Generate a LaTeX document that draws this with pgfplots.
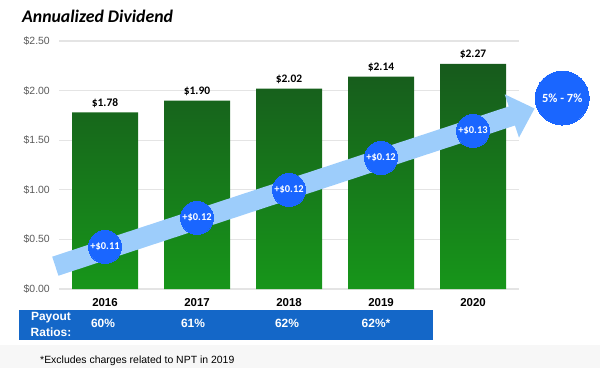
\documentclass[border=0pt]{standalone}
\usepackage{fontspec}
\setmainfont{Liberation Sans}
\newfontfamily\calfont{Carlito}
\usepackage{pgfplots}
\pgfplotsset{compat=1.18}
\usetikzlibrary{arrows.meta}
\definecolor{gridgray}{HTML}{E4E4E4}
\definecolor{ticktext}{HTML}{5A5A5A}
\definecolor{bartop}{HTML}{175A1C}
\definecolor{barbot}{HTML}{17961A}
\definecolor{arrowblue}{HTML}{9DCDFB}
\definecolor{circblue}{HTML}{1A66FF}
\definecolor{bandblue}{HTML}{1467C8}
\definecolor{footgray}{HTML}{F7F7F7}
\begin{document}
\begin{tikzpicture}[x=1bp,y=1bp]
\path[use as bounding box] (0,0) rectangle (600,368);
\fill[footgray] (0,0) rectangle (600,23);
\begin{axis}[
  at={(59bp,79bp)}, anchor=south west,
  scale only axis, width=460bp, height=248bp,
  xmin=-0.5, xmax=4.5, ymin=0, ymax=2.5,
  clip=false,
  axis line style={draw=none},
  major tick length=0pt,
  ymajorgrids, grid style={gridgray, line width=1.3bp},
  ytick={0,0.5,1,1.5,2,2.5},
  yticklabel={\$\pgfmathprintnumber[fixed,fixed zerofill,precision=2]{\tick}},
  yticklabel style={anchor=east, inner sep=0pt, xshift=-9bp, text=ticktext, font=\fontsize{10.5}{12}\selectfont},
  xtick={0,1,2,3,4},
  xticklabels={2016,2017,2018,2019,2020},
  xticklabel style={anchor=north, inner sep=0pt, yshift=-9bp, font=\bfseries\fontsize{11.5}{13}\selectfont},
  /pgf/number format/assume math mode=true,
]
\addplot[ybar, bar width=66bp, draw=none, top color=bartop, bottom color=barbot]
  coordinates {(0,1.78) (1,1.90) (2,2.02) (3,2.14) (4,2.27)};
\addplot[draw=none, mark=none, nodes near coords={\$\pgfmathprintnumber[fixed,fixed zerofill,precision=2]{\pgfplotspointmeta}},
  nodes near coords style={anchor=base, inner sep=0pt, yshift=6bp, font=\calfont\bfseries\fontsize{11.5}{13}\selectfont, text=black}]
  coordinates {(0,1.78) (1,1.90) (2,2.02) (3,2.14) (4,2.27)};
\draw[arrowblue, line width=20bp, -{Triangle[width=44bp,length=24bp]}] (axis cs:-0.54,0.23) -- (axis cs:4.67,1.82);
\addplot[color=circblue, only marks, mark=*, mark size=16.5bp, mark options={fill=circblue, draw=circblue, line width=0pt},
  point meta=explicit,
  nodes near coords={+\$\pgfmathprintnumber[fixed,fixed zerofill,precision=2]{\pgfplotspointmeta}},
  nodes near coords style={anchor=center, inner sep=0pt, text=white, font=\calfont\bfseries\fontsize{10.5}{12}\selectfont}]
  table[meta=d] {
  x y d
  0 0.423 0.11
  1 0.716 0.12
  2 0.998 0.12
  3 1.320 0.12
  4 1.593 0.13
  };
\addplot[color=circblue, only marks, mark=*, mark size=27bp, mark options={fill=circblue, draw=circblue, line width=0pt},
  nodes near coords={5\% - 7\%},
  nodes near coords style={anchor=center, inner sep=0pt, text=white, font=\calfont\bfseries\fontsize{12.5}{14}\selectfont}]
  coordinates {(4.97,1.925)};
\end{axis}
\node[anchor=base west, inner sep=0pt, font=\calfont\bfseries\itshape\fontsize{17.8}{20}\selectfont] at (22,346) {Annualized Dividend};
\fill[bandblue] (19,28) rectangle (433,58);
\node[align=center, inner sep=0pt, text=white, font=\bfseries\fontsize{12}{16}\selectfont] at (51,44) {Payout\\Ratios:};
\begin{scope}[every node/.style={inner sep=0pt, text=white, font=\bfseries\fontsize{12}{14}\selectfont}]
\node at (103,45) {60\%};
\node at (193,45) {61\%};
\node at (287,45) {62\%};
\node at (376,45) {62\%*};
\end{scope}
\node[anchor=west, inner sep=0pt, font=\fontsize{10.5}{12}\selectfont] at (40,7) {*Excludes charges related to NPT in 2019};
\end{tikzpicture}
\end{document}
